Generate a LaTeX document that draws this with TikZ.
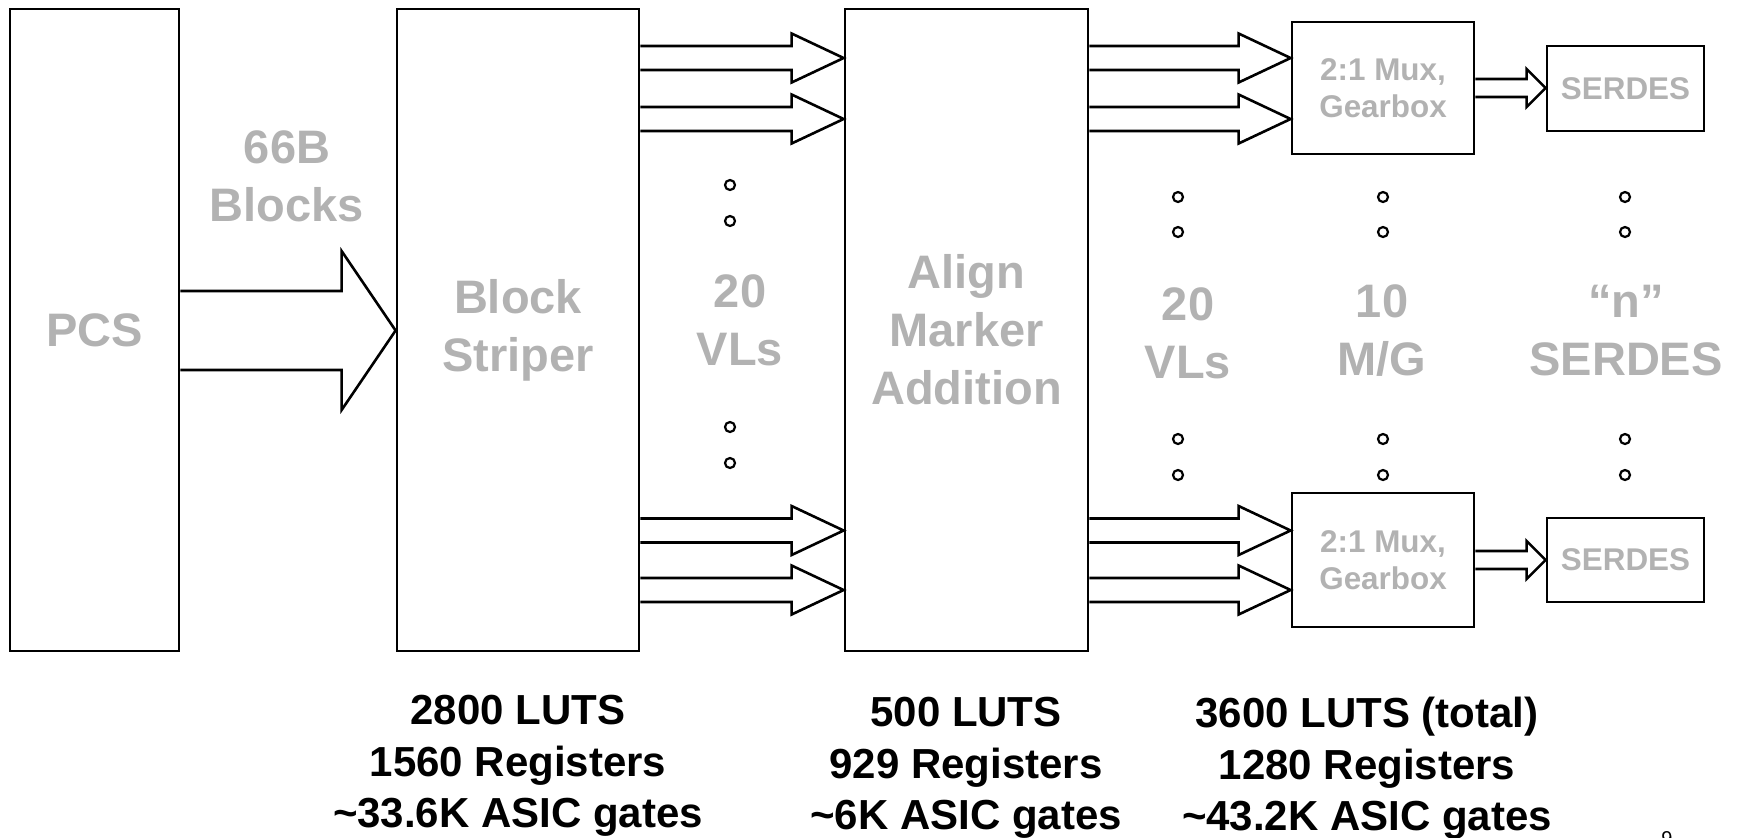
\documentclass[tikz,border=0pt]{standalone}
\usepackage{fontspec}
\setmainfont{Liberation Sans}
\usepackage{tikz}
\usetikzlibrary{calc}
\definecolor{labelgray}{RGB}{178,178,178}

% hollow block arrow: from node, to node, y, shaft half, head half, head length
\newcommand{\fatarrow}[6]{%
  \draw[arrowline] ($(#1.east|-0,#3)+(0,-#4)$) -- ($(#2.west|-0,#3)+(-#6,-#4)$)
    -- ($(#2.west|-0,#3)+(-#6,-#5)$) -- (#2.west|-0,#3)
    -- ($(#2.west|-0,#3)+(-#6,#5)$) -- ($(#2.west|-0,#3)+(-#6,#4)$)
    -- ($(#1.east|-0,#3)+(0,#4)$);}

\begin{document}
\begin{tikzpicture}[x=0.5pt, y=-0.5pt,
    box/.style={draw, line width=1.4pt, inner sep=0pt, align=center, text=labelgray,
      font=\bfseries\fontsize{23.5}{29}\selectfont},
    smallbox/.style={box, font=\bfseries\fontsize{15.7}{18.5}\selectfont},
    graylabel/.style={text=labelgray, align=center, inner sep=0pt,
      font=\bfseries\fontsize{23.5}{29}\selectfont},
    costlabel/.style={align=center, anchor=north, inner sep=0pt,
      font=\bfseries\fontsize{21}{25.75}\selectfont},
    arrowline/.style={line width=1.3pt},
    dotring/.style={line width=1.1pt}]
    \useasboundingbox (0,0) rectangle (1739,837);

    % blocks
    \node[box, minimum width=84.5pt, minimum height=321pt] (pcs) at (94.5,330) {PCS};
    \node[box, minimum width=121pt, minimum height=321pt] (striper) at (518,330) {Block\\Striper};
    \node[box, minimum width=121.5pt, minimum height=321pt] (align) at (966.5,330) {Align\\Marker\\Addition};
    \node[smallbox, minimum width=91pt, minimum height=66pt] (muxtop) at (1383,88) {2:1 Mux,\\Gearbox};
    \node[smallbox, minimum width=91pt, minimum height=67pt] (muxbot) at (1383,560) {2:1 Mux,\\Gearbox};
    \node[smallbox, minimum width=78.5pt, minimum height=42.5pt] (serdestop) at (1625.5,88.5) {SERDES};
    \node[smallbox, minimum width=78.5pt, minimum height=42pt] (serdesbot) at (1625.5,560) {SERDES};

    % labels between blocks
    \node[graylabel] (blocks66) at (287,176) {66B\\Blocks};
    \node[graylabel] (vlsleft) at (740,320) {20\\VLs};
    \node[graylabel] (vlsright) at (1188,333) {20\\VLs};
    \node[graylabel] (muxcount) at (1382,331) {10\\M/G};
    \node[graylabel] (serdescount) at (1626,331) {“n”\\SERDES};

    % arrows
    \fatarrow{pcs}{striper}{330.5}{39.5}{79.5}{54}
    \fatarrow{striper}{align}{58}{12}{24.5}{52}
    \fatarrow{striper}{align}{119}{12}{24.5}{52}
    \fatarrow{striper}{align}{530.5}{12}{24.5}{52}
    \fatarrow{striper}{align}{590}{12}{24.5}{52}
    \fatarrow{align}{muxtop}{58}{12}{24.5}{52}
    \fatarrow{align}{muxtop}{119}{12}{24.5}{52}
    \fatarrow{align}{muxbot}{530.5}{12}{24.5}{52}
    \fatarrow{align}{muxbot}{590}{12}{24.5}{52}
    \fatarrow{muxtop}{serdestop}{88}{9}{19}{19}
    \fatarrow{muxbot}{serdesbot}{560}{9}{19}{19}

    % ellipsis dots
    \draw[dotring] (730,185) circle (5) (730,221) circle (5) (730,427) circle (5) (730,463) circle (5);
    \draw[dotring] (1178,197) circle (5) (1178,232) circle (5) (1178,439) circle (5) (1178,475) circle (5);
    \draw[dotring] (1383,197) circle (5) (1383,232) circle (5) (1383,439) circle (5) (1383,475) circle (5);
    \draw[dotring] (1625,197) circle (5) (1625,232) circle (5) (1625,439) circle (5) (1625,475) circle (5);

    % resource figures
    \node[costlabel] (costa) at (518,695) {2800 LUTS\\1560 Registers\\\textasciitilde33.6K ASIC gates};
    \node[costlabel] (costb) at (966,697) {500 LUTS\\929 Registers\\\textasciitilde6K ASIC gates};
    \node[costlabel] (costc) at (1367,697) {3600 LUTS (total)\\1280 Registers\\\textasciitilde43.2K ASIC gates};

    \node[anchor=north, inner sep=0pt, font=\fontsize{10}{12}\selectfont] (pagenum) at (1667,831) {9};
\end{tikzpicture}
\end{document}
